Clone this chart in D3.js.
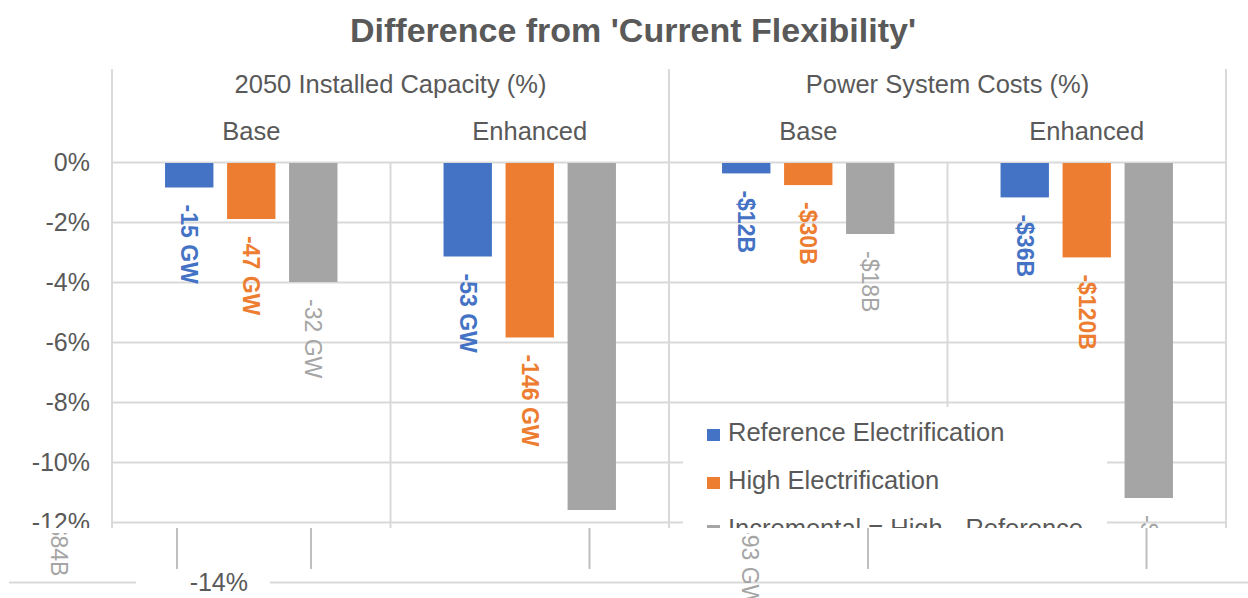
<!DOCTYPE html>
<html>
<head>
<meta charset="utf-8">
<script src="https://cdn.jsdelivr.net/npm/d3@7"></script>
<style>
  html, body { margin: 0; padding: 0; background: #ffffff; }
  svg { display: block; font-family: "Liberation Sans", Arial, sans-serif; }
</style>
</head>
<body>
<div id="chart"></div>
<script>
// ---------- data ----------
const titleText = "Difference from 'Current Flexibility'";
const panels = ["2050 Installed Capacity (%)", "Power System Costs (%)"];
const categories = ["Base", "Enhanced", "Base", "Enhanced"];
const categoryPanel = [0, 0, 1, 1];
const seriesNames = ["Reference Electrification", "High Electrification", "Incremental = High - Reference"];
const refValues  = [-0.85, -3.15, -0.38, -1.18];
const highValues = [-1.9, -5.85, -0.77, -3.18];
const incValues  = [-4.0, -11.6, -2.4, -11.2];
const refLabels  = ["-15 GW", "-53 GW", "-$12B", "-$36B"];
const highLabels = ["-47 GW", "-146 GW", "-$30B", "-$120B"];
const incLabels  = ["-32 GW", "-93 GW", "-$18B", "-$84B"];
const yTicks = [0, -2, -4, -6, -8, -10, -12, -14];
const seriesColors = ["#4472c4", "#ed7d31", "#a5a5a5"];

// ---------- layout ----------
const W = 1248, H = 598;
const plotLeft = 112, plotRight = 1226, yTop = 162, yBottom = 522;
const gridColor = "#d9d9d9", textColor = "#595959";

const svg = d3.select("#chart").append("svg").attr("width", W).attr("height", H);
const defs = svg.append("defs");
defs.append("clipPath").attr("id", "clipMain")
  .append("rect").attr("x", 0).attr("y", 0).attr("width", W).attr("height", 528);
defs.append("clipPath").attr("id", "clipStrip")
  .append("rect").attr("x", 9).attr("y", 533).attr("width", W - 9).attr("height", H - 533);

const idx = d3.range(categories.length);
const x0 = d3.scaleBand().domain(idx).range([plotLeft, plotRight]).padding(0);
const x1 = d3.scaleBand().domain([0, 1, 2]).range([-86.2, 86.2]).paddingInner(0.22).paddingOuter(0);
const y = d3.scaleLinear().domain([0, -12]).range([yTop, yBottom]);

const seriesVals = [refValues, highValues, incValues];
const seriesLabs = [refLabels, highLabels, incLabels];
const barData = [];
seriesVals.forEach((vals, s) => vals.forEach((v, i) => barData.push({ s, i, v, label: seriesLabs[s][i] })));
const cx = d => x0(d.i) + x0.bandwidth() / 2 + x1(d.s) + x1.bandwidth() / 2;

// ---------- title ----------
svg.append("text").attr("x", 633).attr("y", 42).attr("text-anchor", "middle")
  .attr("font-size", 34).attr("font-weight", "bold").attr("fill", textColor).text(titleText);

// ---------- main clipped chart ----------
const main = svg.append("g").attr("clip-path", "url(#clipMain)");

// horizontal gridlines + y tick labels via axis
const yAxis = d3.axisLeft(y).tickValues(yTicks).tickFormat(d => d + "%")
  .tickSize(-(plotRight - plotLeft)).tickPadding(22);
const gy = main.append("g").attr("transform", `translate(${plotLeft},0)`).call(yAxis);
gy.select(".domain").remove();
gy.selectAll(".tick line").attr("stroke", gridColor).attr("stroke-width", 2);
gy.selectAll(".tick text").attr("fill", textColor).attr("font-size", 25)
  .attr("font-family", "'Liberation Sans', Arial, sans-serif");

// vertical lines: panel separators (tall) and category separators
const boundaries = idx.map(i => x0(i)).concat([plotRight]);
boundaries.forEach((bx, k) => {
  const isPanel = (k % 2 === 0);
  main.append("line").attr("x1", bx).attr("x2", bx)
    .attr("y1", isPanel ? 69 : y(0)).attr("y2", y(-14))
    .attr("stroke", gridColor).attr("stroke-width", 2);
});

// bars
main.append("g").selectAll("rect").data(barData).join("rect")
  .attr("x", d => x0(d.i) + x0.bandwidth() / 2 + x1(d.s))
  .attr("width", x1.bandwidth())
  .attr("y", y(0) + 1)
  .attr("height", d => y(d.v) - y(0) - 1)
  .attr("fill", d => seriesColors[d.s]);

// data labels (rotated)
function drawLabels(g) {
  g.selectAll("text.lbl").data(barData).join("text").attr("class", "lbl")
    .attr("transform", d => `translate(${cx(d)},${y(d.v) + 17}) rotate(90)`)
    .attr("dominant-baseline", "central")
    .attr("font-size", 23)
    .attr("font-weight", d => d.s === 2 ? "normal" : "bold")
    .attr("fill", d => seriesColors[d.s])
    .text(d => d.label);
}
drawLabels(main);

// panel headers & category headers
panels.forEach((p, pi) => {
  const cats = idx.filter(i => categoryPanel[i] === pi);
  const c = (x0(cats[0]) + x0(cats[cats.length - 1]) + x0.bandwidth()) / 2;
  main.append("text").attr("x", c).attr("y", 93).attr("text-anchor", "middle")
    .attr("font-size", 25.5).attr("fill", textColor).text(p);
});
idx.forEach(i => {
  main.append("text").attr("x", x0(i) + x0.bandwidth() / 2).attr("y", 140).attr("text-anchor", "middle")
    .attr("font-size", 25.5).attr("fill", textColor).text(categories[i]);
});

// legend
const lg = main.append("g");
lg.append("rect").attr("x", 683).attr("y", 407).attr("width", 424).attr("height", 130).attr("fill", "#ffffff");
seriesNames.forEach((n, s) => {
  const by = 441 + s * 48;
  lg.append("rect").attr("x", 707).attr("y", by - 12).attr("width", 13).attr("height", 12).attr("fill", seriesColors[s]);
  lg.append("text").attr("x", 728).attr("y", by).attr("font-size", 25.5).attr("fill", textColor).text(n);
});

// ---------- glitch strip below the plot (shifted copy rows) ----------
// strip A: separator ticks shifted
const shiftA = 199;
const stripA = svg.append("g");
boundaries.forEach(bx => {
  let sx = bx + shiftA; if (sx > W) sx -= W;
  stripA.append("line").attr("x1", sx).attr("x2", sx).attr("y1", 528).attr("y2", 569)
    .attr("stroke", "#bfbfbf").attr("stroke-width", 2);
});

// strip B: -14% row and overflowing labels, shifted with wrap-around
const shiftB = 158;
const stripB = svg.append("g").attr("clip-path", "url(#clipStrip)");
[shiftB, shiftB - W].forEach(sh => {
  const g = stripB.append("g").attr("transform", `translate(${sh},0)`);
  const ax = d3.axisLeft(y).tickValues([-14]).tickFormat(d => d + "%")
    .tickSize(-(plotRight - plotLeft)).tickPadding(22);
  const ga = g.append("g").attr("transform", `translate(${plotLeft},0)`).call(ax);
  ga.select(".domain").remove();
  ga.selectAll(".tick line").attr("stroke", gridColor).attr("stroke-width", 2);
  ga.selectAll(".tick text").attr("fill", textColor).attr("font-size", 25)
    .attr("font-family", "'Liberation Sans', Arial, sans-serif");
  drawLabels(g);
});
</script>
</body>
</html>
